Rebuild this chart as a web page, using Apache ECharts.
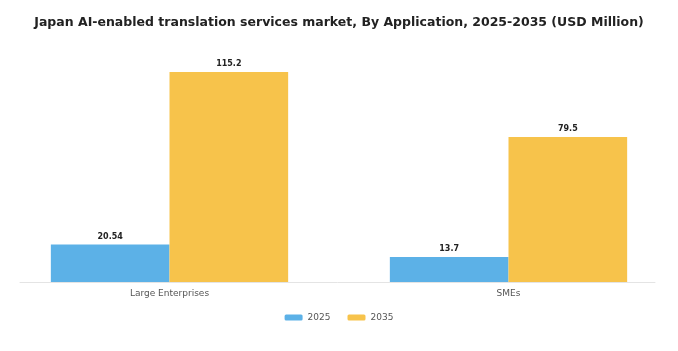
<!DOCTYPE html>
<html>
<head>
<meta charset="utf-8">
<script src="https://cdn.jsdelivr.net/npm/echarts@6/dist/echarts.min.js"></script>
<style>
  html, body { margin: 0; padding: 0; background: #fff; }
  #chart { width: 678px; height: 351px; }
</style>
</head>
<body>
<div id="chart"></div>
<script>
// data
var categories = ['Large Enterprises', 'SMEs'];
var years = ['2025', '2035'];
var values2025 = [20.54, 13.7];
var values2035 = [115.2, 79.5];

var myChart = echarts.init(document.getElementById('chart'));

var labelStyle = {
  show: true,
  position: 'top',
  distance: 4,
  color: '#222',
  fontWeight: 'bold',
  fontSize: 8,
  fontFamily: 'DejaVu Sans'
};

var option = {
  animation: false,
  title: {
    text: 'Japan AI-enabled translation services market, By Application, 2025-2035 (USD Million)',
    left: 'center',
    top: 11,
    textStyle: { fontFamily: 'DejaVu Sans', fontWeight: 'bold', fontSize: 12.5, color: '#222' }
  },
  legend: {
    data: years,
    bottom: 24,
    left: 'center',
    icon: 'roundRect',
    itemWidth: 18,
    itemHeight: 6,
    itemGap: 17,
    textStyle: { fontFamily: 'DejaVu Sans', fontSize: 9, color: '#555' }
  },
  color: ['#5cb1e7', '#f7c34b'],
  grid: [
    { left: -2, right: -2, top: 45, bottom: 69 },
    { left: 20, right: 23, top: 45, bottom: 69 }   // only for the axis line
  ],
  xAxis: [{
    type: 'category',
    data: categories,
    gridIndex: 0,
    axisLine: { show: false },
    axisTick: { show: false },
    axisLabel: { color: '#555', fontSize: 9, fontFamily: 'DejaVu Sans', margin: 7 }
  }, {
    type: 'category',
    data: categories,
    gridIndex: 1,
    axisLine: { show: true, lineStyle: { color: '#e4e4e4' } },
    axisTick: { show: false },
    axisLabel: { show: false }
  }],
  yAxis: [
    { type: 'value', gridIndex: 0, min: 0, max: 130, show: false, splitLine: { show: false } },
    { type: 'value', gridIndex: 1, min: 0, max: 130, show: false, splitLine: { show: false } }
  ],
  series: [{
    name: years[0],
    type: 'bar',
    data: values2025,
    barGap: '0%',
    barCategoryGap: '30%',
    label: labelStyle
  }, {
    name: years[1],
    type: 'bar',
    data: values2035,
    barGap: '0%',
    barCategoryGap: '30%',
    label: labelStyle
  }]
};

myChart.setOption(option);
</script>
</body>
</html>
